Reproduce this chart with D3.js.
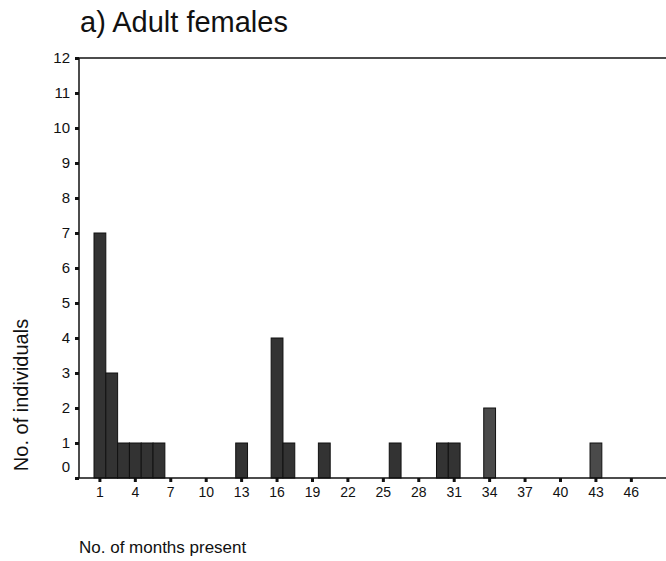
<!DOCTYPE html>
<html>
<head>
<meta charset="utf-8">
<script src="https://cdnjs.cloudflare.com/ajax/libs/d3/7.8.5/d3.min.js"></script>
<style>
  body { margin: 0; background: #fff; }
  svg text { font-family: "Liberation Sans", Arial, sans-serif; fill: #111; }
</style>
</head>
<body>
<div id="container"></div>
<script>
// months present (1..50) and number of individuals per month
const months = d3.range(1, 51)
const barMonths = [1, 2, 3, 4, 5, 6, 13, 16, 17, 20, 26, 30, 31, 34, 43]
const barCounts = [7, 3, 1, 1, 1, 1, 1, 4, 1, 1, 1, 1, 1, 2, 1]
const xTickValues = [1, 4, 7, 10, 13, 16, 19, 22, 25, 28, 31, 34, 37, 40, 43, 46]
const yTickValues = [0, 1, 2, 3, 4, 5, 6, 7, 8, 9, 10, 11, 12]

const width = 666, height = 561

const svg = d3.select("div#container").append("svg")
    .attr("width", width)
    .attr("height", height)

const axisX = 79, baseY = 478, topY = 58

const xScale = d3.scaleBand()
    .domain(months)
    .range([94, 94 + months.length * 11.81])
    .padding(0)

const yScale = d3.scaleLinear()
    .domain([0, 12])
    .range([baseY, topY])

const bars = barMonths.map((m, i) => ({ month: m, count: barCounts[i] }))

// bars
svg.append("g")
    .selectAll("rect")
    .data(bars)
    .enter().append("rect")
    .attr("x", d => xScale(d.month))
    .attr("y", d => yScale(d.count))
    .attr("width", xScale.bandwidth())
    .attr("height", d => baseY - yScale(d.count))
    .attr("fill", d => d.month >= 34 ? "#4a4a4a" : "#333")
    .attr("stroke", "#111")
    .attr("stroke-width", 1)

// x axis
const xaxis = d3.axisBottom(xScale)
    .tickValues(xTickValues)
    .tickSize(4)
    .tickPadding(5)

const gx = svg.append("g")
    .attr("transform", "translate(0," + baseY + ")")
    .call(xaxis)
gx.select(".domain").remove()
gx.selectAll(".tick line").attr("stroke", "#111").attr("stroke-width", 3)
gx.selectAll(".tick text").style("font-size", "14px")
gx.append("line")
    .attr("x1", axisX).attr("x2", width)
    .attr("y1", 0).attr("y2", 0)
    .attr("stroke", "#111").attr("stroke-width", 1.3)

// y axis
const yaxis = d3.axisLeft(yScale)
    .tickValues(yTickValues)
    .tickSize(4)
    .tickPadding(5)

const gy = svg.append("g")
    .attr("transform", "translate(" + axisX + ",0)")
    .call(yaxis)
gy.select(".domain").remove()
gy.selectAll(".tick line").attr("stroke", "#111").attr("stroke-width", 3)
gy.selectAll(".tick text").style("font-size", "15px")
gy.selectAll(".tick").filter(d => d === 0).select("text").attr("y", -11)
gy.append("line")
    .attr("x1", 0).attr("x2", 0)
    .attr("y1", topY).attr("y2", baseY)
    .attr("stroke", "#111").attr("stroke-width", 1.5)

// top frame line
svg.append("line")
    .attr("x1", axisX).attr("x2", width)
    .attr("y1", topY).attr("y2", topY)
    .attr("stroke", "#111").attr("stroke-width", 1.3)

// title
svg.append("text")
    .attr("x", 80)
    .attr("y", 32)
    .text("a) Adult females")
    .style("font-size", "29px")

// y axis label
svg.append("text")
    .attr("text-anchor", "middle")
    .attr("transform", "translate(28,395)rotate(-90)")
    .text("No. of individuals")
    .style("font-size", "20px")

// x axis label
svg.append("text")
    .attr("x", 79)
    .attr("y", 553)
    .text("No. of months present")
    .style("font-size", "17px")
</script>
</body>
</html>
